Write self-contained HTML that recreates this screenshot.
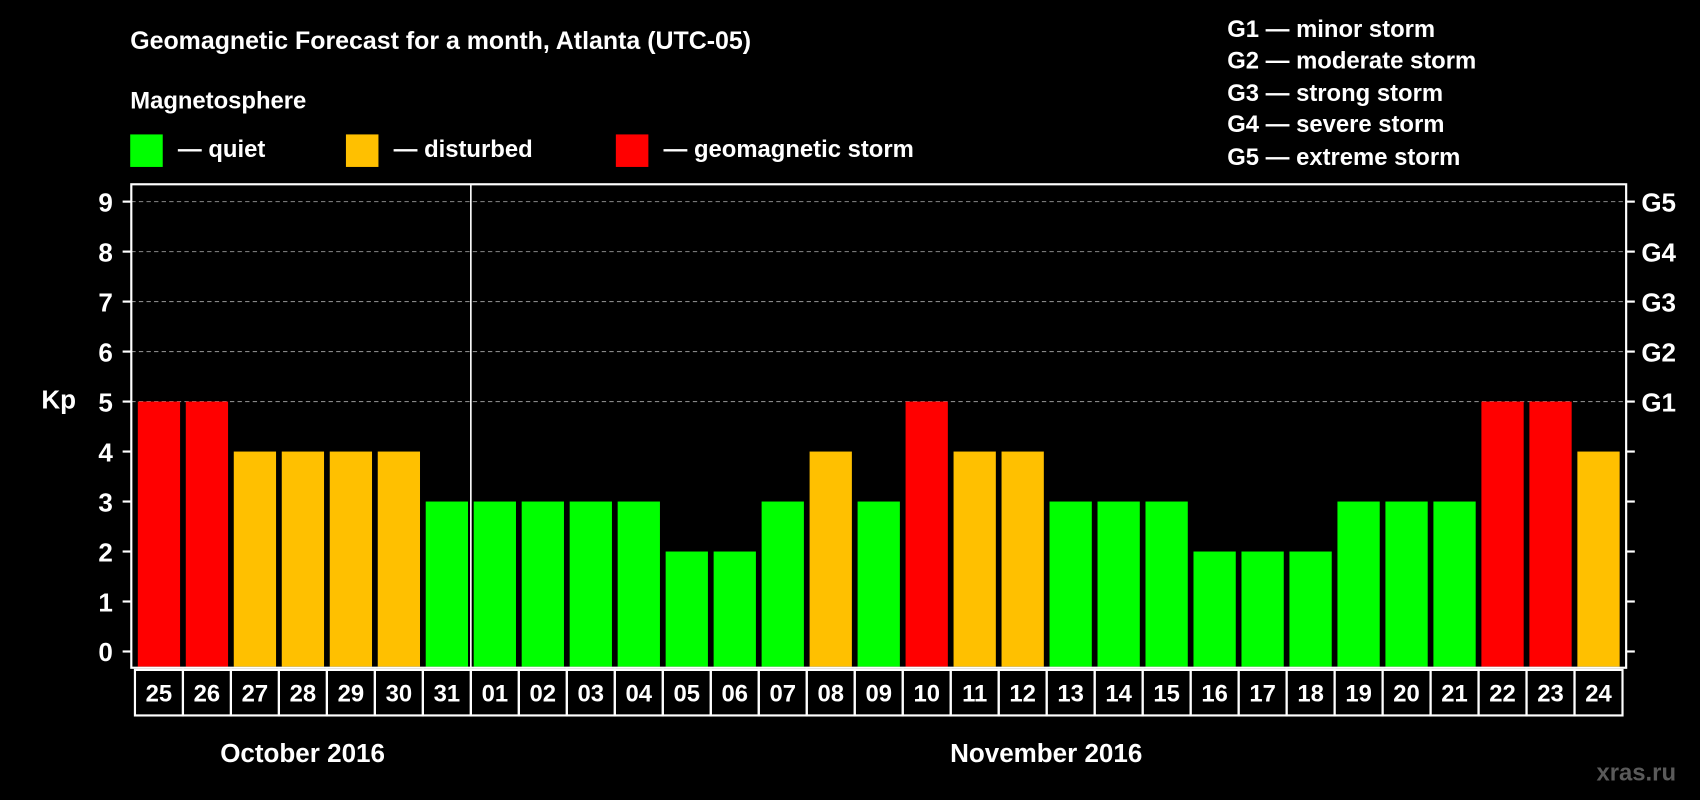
<!DOCTYPE html>
<html><head><meta charset="utf-8">
<style>
html,body{margin:0;padding:0;background:#000;}
svg{display:block;}
text{font-family:"Liberation Sans",Arial,sans-serif;font-weight:bold;fill:#fff;}
</style></head>
<body>
<svg id="chart" width="1700" height="800" viewBox="0 0 1568 738" xmlns="http://www.w3.org/2000/svg">
<rect x="0" y="0" width="1568" height="738" fill="#000"/>
<text x="120" y="45" font-size="23">Geomagnetic Forecast for a month, Atlanta (UTC-05)</text>
<text x="120" y="100" font-size="22">Magnetosphere</text>
<g><rect x="120" y="124" width="30" height="30" fill="#00ff00"/><text x="164" y="145" font-size="22">— quiet</text></g>
<g><rect x="319" y="124" width="30" height="30" fill="#ffc000"/><text x="363" y="145" font-size="22">— disturbed</text></g>
<g><rect x="568" y="124" width="30" height="30" fill="#ff0000"/><text x="612" y="145" font-size="22">— geomagnetic storm</text></g>
<g font-size="22">
<text x="1132" y="34">G1 — minor storm</text>
<text x="1132" y="63">G2 — moderate storm</text>
<text x="1132" y="93">G3 — strong storm</text>
<text x="1132" y="122">G4 — severe storm</text>
<text x="1132" y="152">G5 — extreme storm</text>
</g>
<text x="38" y="377" font-size="24">Kp</text>
<g id="grid"></g>
<g id="bars"></g>
<g id="axes"></g>
<g id="xlabels"></g>
<text x="279" y="703" font-size="24" text-anchor="middle">October 2016</text>
<text x="965" y="703" font-size="24" text-anchor="middle">November 2016</text>
<text x="1546" y="720" font-size="22" text-anchor="end" fill="#555" style="fill:#5a5a5a">xras.ru</text>
</svg>
<script>
const days = ["25","26","27","28","29","30","31","01","02","03","04","05","06","07","08","09","10","11","12","13","14","15","16","17","18","19","20","21","22","23","24"];
const kpValues = [5,5,4,4,4,4,3,3,3,3,3,2,2,3,4,3,5,4,4,3,3,3,2,2,2,3,3,3,5,5,4];
const yTicks = [0,1,2,3,4,5,6,7,8,9];
const gLabels = ["G1","G2","G3","G4","G5"];
const NS="http://www.w3.org/2000/svg";
const L=121,R=1500,T=170,B=616;
const x0=146.5,x1=1474.5;
function xs(i){return x0+(x1-x0)*i/(days.length-1);}
function ys(v){return 601-(601-186)*v/9;}
const pitch=(x1-x0)/(days.length-1), bw=39;
function mk(tag,attrs,parent){const e=document.createElementNS(NS,tag);for(const k in attrs)e.setAttribute(k,attrs[k]);parent.appendChild(e);return e;}
const grid=document.getElementById('grid'),bars=document.getElementById('bars'),axes=document.getElementById('axes'),xl=document.getElementById('xlabels');
yTicks.forEach(v=>{
  const y=ys(v);
  if(v>=5){const g=mk('line',{x1:L,x2:R,y1:y,y2:y,stroke:'#888','stroke-width':1,'stroke-dasharray':'4,3'},grid);
    
    }
  const t=mk('line',{x1:L-8,x2:L,y1:y,y2:y,stroke:'#fff','stroke-width':2},axes);
  
  
  const t2=mk('line',{x1:R,x2:R+8,y1:y,y2:y,stroke:'#fff','stroke-width':2},axes);
  
  
  const lb=mk('text',{x:104,y:y+9,'font-size':24,'text-anchor':'end'},axes);lb.textContent=v;
  
  
});
gLabels.forEach((g,i)=>{
  const lb=mk('text',{x:1514,y:ys(5+i)+9,'font-size':24},axes);lb.textContent=g;
  
  
});
kpValues.forEach((v,i)=>{
  const c=v>=5?'#ff0000':(v>=4?'#ffc000':'#00ff00');
  const r=mk('rect',{x:xs(i)-bw/2,y:ys(v),width:bw,height:B-ys(v)-1,fill:c},bars);
  
  
  const b=mk('rect',{x:xs(i)-pitch/2,y:618,width:pitch,height:42,fill:'none',stroke:'#fff','stroke-width':2},xl);
  
  
  const t=mk('text',{x:xs(i),y:647,'font-size':22,'text-anchor':'middle'},xl);t.textContent=days[i];
  
  
});
const fr=mk('rect',{x:L,y:T,width:R-L,height:B-T,fill:'none',stroke:'#fff','stroke-width':2},axes);


const mi=days.indexOf("01");
const dx=(xs(mi-1)+xs(mi))/2;
const dv=mk('line',{x1:dx,x2:dx,y1:T,y2:B,stroke:'#fff','stroke-width':1.5},axes);


</script>
</body></html>
